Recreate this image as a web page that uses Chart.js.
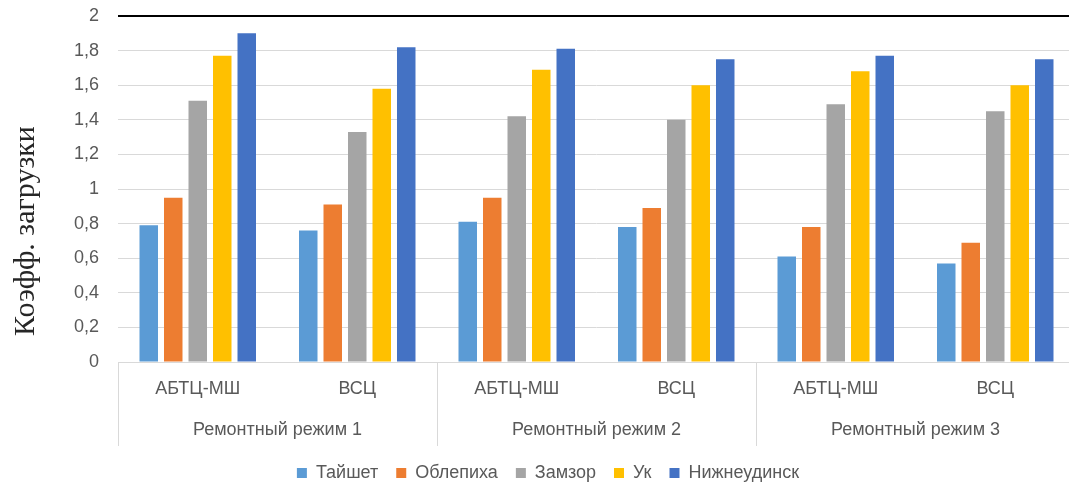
<!DOCTYPE html>
<html lang="ru">
<head>
<meta charset="utf-8">
<title>Коэфф. загрузки</title>
<script src="https://cdn.jsdelivr.net/npm/chart.js@4/dist/chart.umd.min.js"></script>
<style>
  html, body { margin: 0; padding: 0; background: #ffffff; overflow: hidden; }
  #wrap { position: relative; width: 1096px; height: 492px; }
</style>
</head>
<body>
<div id="wrap"><canvas id="chart" width="1096" height="492"></canvas></div>
<script>
// Sub-categories along the x axis and the repair modes that group them
const sections = ['АБТЦ-МШ', 'ВСЦ', 'АБТЦ-МШ', 'ВСЦ', 'АБТЦ-МШ', 'ВСЦ'];
const modes = ['Ремонтный режим 1', 'Ремонтный режим 2', 'Ремонтный режим 3'];

// Load factor per substation
const taishet = [0.79, 0.76, 0.81, 0.78, 0.61, 0.57];
const oblepikha = [0.95, 0.91, 0.95, 0.89, 0.78, 0.69];
const zamzor = [1.51, 1.33, 1.42, 1.40, 1.49, 1.45];
const uk = [1.77, 1.58, 1.69, 1.60, 1.68, 1.60];
const nizhneudinsk = [1.90, 1.82, 1.81, 1.75, 1.77, 1.75];

// Value axis ticks
const yTicks = [0, 0.2, 0.4, 0.6, 0.8, 1, 1.2, 1.4, 1.6, 1.8, 2];

const axisTitle = 'Коэфф. загрузки';
const FONT = "'Liberation Sans', Arial, sans-serif";
const TEXT = '#595959';
const GRID = '#d9d9d9';

// Rotated serif title to the left of the value axis
const yTitlePlugin = {
  id: 'yTitle',
  afterDraw(chart) {
    const c = chart.ctx;
    c.save();
    c.translate(34, 231);
    c.rotate(-Math.PI / 2);
    c.font = "30px 'Liberation Serif', 'Times New Roman', serif";
    c.fillStyle = '#262626';
    c.textAlign = 'center';
    c.textBaseline = 'alphabetic';
    c.fillText(axisTitle, 0, 0);
    c.restore();
  }
};

const series = [
  { label: 'Тайшет', data: taishet, color: '#5B9BD5' },
  { label: 'Облепиха', data: oblepikha, color: '#ED7D31' },
  { label: 'Замзор', data: zamzor, color: '#A5A5A5' },
  { label: 'Ук', data: uk, color: '#FFC000' },
  { label: 'Нижнеудинск', data: nizhneudinsk, color: '#4472C4' }
];

new Chart(document.getElementById('chart'), {
  type: 'bar',
  data: {
    labels: sections,
    datasets: series.map(s => ({
      label: s.label,
      data: s.data,
      backgroundColor: s.color,
      borderWidth: 0,
      categoryPercentage: 0.768,
      barPercentage: 0.755
    }))
  },
  options: {
    responsive: false,
    animation: false,
    layout: { padding: { left: 21, right: 21, top: 16, bottom: 0 } },
    plugins: {
      legend: {
        position: 'bottom',
        labels: {
          boxWidth: 10,
          boxHeight: 10,
          padding: 18,
          color: TEXT,
          font: { family: FONT, size: 18 }
        }
      },
      tooltip: { enabled: false }
    },
    scales: {
      x: {
        type: 'category',
        position: 'bottom',
        offset: true,
        grid: {
          offset: true,
          drawOnChartArea: false,
          drawTicks: true,
          tickLength: 40,
          lineWidth: 1,
          color: ctx => (ctx.index === undefined || ctx.index % 2 === 0) ? GRID : 'rgba(0,0,0,0)'
        },
        border: { display: true, color: GRID, width: 1 },
        ticks: {
          color: TEXT,
          font: { family: FONT, size: 18 },
          padding: -24,
          maxRotation: 0,
          minRotation: 0,
          autoSkip: false
        },
        afterFit: s => { s.height = 40; }
      },
      x2: {
        type: 'category',
        position: 'bottom',
        labels: modes,
        offset: true,
        grid: {
          offset: true,
          drawOnChartArea: false,
          drawTicks: true,
          tickLength: 44,
          lineWidth: 1,
          color: GRID
        },
        border: { display: false },
        ticks: {
          color: TEXT,
          font: { family: FONT, size: 18 },
          padding: -27,
          maxRotation: 0,
          minRotation: 0,
          autoSkip: false
        },
        afterFit: s => { s.height = 44; }
      },
      y: {
        min: 0,
        max: 2,
        afterBuildTicks: s => { s.ticks = yTicks.map(v => ({ value: v })); },
        grid: {
          drawTicks: false,
          color: ctx => (ctx.tick && ctx.tick.value === 2) ? '#000000' : GRID,
          lineWidth: ctx => (ctx.tick && ctx.tick.value === 2) ? 2 : 1
        },
        border: { display: false },
        ticks: {
          color: TEXT,
          font: { family: FONT, size: 18 },
          padding: 19,
          callback: v => String(Number(v.toFixed(1))).replace('.', ',')
        },
        afterFit: s => {
          s.width = 97;
          s.paddingTop = 0;
          s.paddingBottom = 0;
        }
      }
    }
  },
  plugins: [yTitlePlugin]
});
</script>
</body>
</html>
